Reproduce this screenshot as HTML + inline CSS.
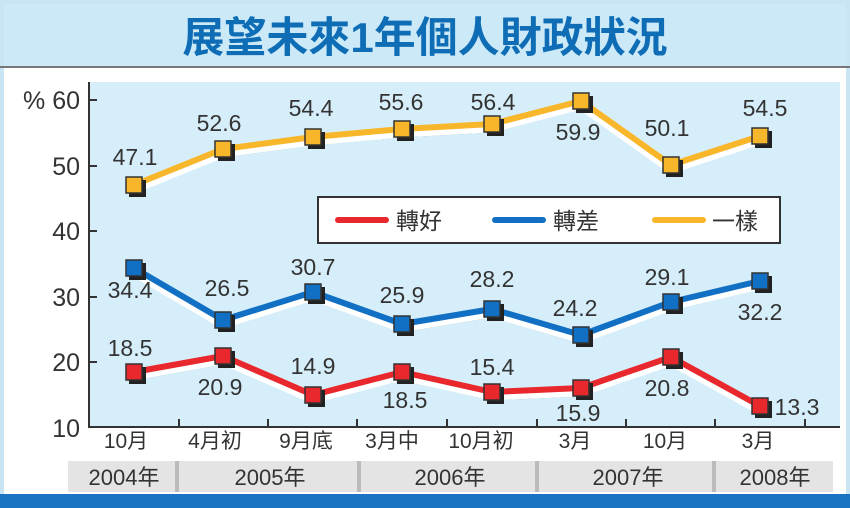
<!DOCTYPE html>
<html><head><meta charset="utf-8"><style>
html,body{margin:0;padding:0;background:#fff}
svg{display:block}
text{font-family:"Liberation Sans","Noto Sans CJK TC",sans-serif;fill:#333}
</style></head><body>
<svg width="850" height="508" viewBox="0 0 850 508" xmlns="http://www.w3.org/2000/svg">
<rect x="0" y="0" width="850" height="508" fill="#c9e4f2"/>
<rect x="4" y="4" width="842" height="64" fill="#cce9f8"/>
<rect x="4" y="68" width="842" height="426" fill="#fff"/>
<rect x="0" y="66" width="850" height="2" fill="#777"/>
<text x="425" y="52" text-anchor="middle" font-size="42" font-weight="bold" style="fill:#0e6db5">展望未來1年個人財政狀況</text>
<rect x="89" y="82" width="751" height="345" fill="#d6eefa"/>
<line x1="89" y1="82" x2="89" y2="428" stroke="#333" stroke-width="2"/>
<line x1="88" y1="427" x2="840" y2="427" stroke="#333" stroke-width="2"/>
<g stroke="#333" stroke-width="2">
<line x1="89" y1="100" x2="97" y2="100"/><line x1="89" y1="166" x2="97" y2="166"/>
<line x1="89" y1="231" x2="97" y2="231"/><line x1="89" y1="297" x2="97" y2="297"/>
<line x1="89" y1="362" x2="97" y2="362"/>
<line x1="179" y1="419" x2="179" y2="427"/><line x1="268" y1="419" x2="268" y2="427"/>
<line x1="357" y1="419" x2="357" y2="427"/><line x1="447" y1="419" x2="447" y2="427"/>
<line x1="537" y1="419" x2="537" y2="427"/><line x1="626" y1="419" x2="626" y2="427"/>
<line x1="715" y1="419" x2="715" y2="427"/><line x1="805" y1="419" x2="805" y2="427"/>
</g>
<g font-size="25" text-anchor="end">
<text x="80" y="109">% 60</text><text x="80" y="175">50</text><text x="80" y="240">40</text>
<text x="80" y="306">30</text><text x="80" y="371">20</text><text x="80" y="437">10</text>
</g>
<g font-size="21" text-anchor="middle">
<text x="126" y="448">10月</text><text x="215" y="448">4月初</text><text x="306" y="448">9月底</text>
<text x="392" y="448">3月中</text><text x="481" y="448">10月初</text><text x="575" y="448">3月</text>
<text x="665" y="448">10月</text><text x="758" y="448">3月</text>
</g>
<rect x="68" y="461" width="765" height="31" fill="#e4e4e4"/>
<g fill="#bbb"><rect x="175" y="461" width="4" height="31"/><rect x="357" y="461" width="4" height="31"/><rect x="535" y="461" width="4" height="31"/><rect x="712" y="461" width="4" height="31"/></g>
<g font-size="22" text-anchor="middle">
<text x="124" y="485">2004年</text><text x="270" y="485">2005年</text><text x="450" y="485">2006年</text>
<text x="628" y="485">2007年</text><text x="775" y="485">2008年</text>
</g>
<rect x="0" y="494" width="850" height="14" fill="#1a74c2"/>
<rect x="318" y="197" width="462" height="46" fill="#fff" stroke="#333" stroke-width="2"/>
<g stroke-width="6" stroke-linecap="round">
<line x1="338" y1="220" x2="386" y2="220" stroke="#e8282c"/>
<line x1="495" y1="220" x2="543" y2="220" stroke="#1270c4"/>
<line x1="655" y1="220" x2="703" y2="220" stroke="#f8b62a"/>
</g>
<g font-size="23"><text x="396" y="229">轉好</text><text x="553" y="229">轉差</text><text x="712" y="229">一樣</text></g>
<g fill="none" stroke-linejoin="round">
<polyline stroke="#3a8a96" stroke-width="3" points="134,192 223,156 313,144 402,136 492,131 581,108 671,172 760,143"/>
<polyline stroke="#fff" stroke-width="11" points="134,188 223,152 313,140 402,132 492,127 581,104 671,168 760,139"/>
<polyline stroke="#f8b62a" stroke-width="6" points="134,185 223,149 313,137 402,129 492,124 581,101 671,165 760,136"/>
<polyline stroke="#3a8a96" stroke-width="3" points="134,275 223,327 313,299 402,331 492,316 581,342 671,309 760,288"/>
<polyline stroke="#fff" stroke-width="11" points="134,271 223,323 313,295 402,327 492,312 581,338 671,305 760,284"/>
<polyline stroke="#1270c4" stroke-width="6" points="134,268 223,320 313,292 402,324 492,309 581,335 671,302 760,281"/>
<polyline stroke="#3a8a96" stroke-width="3" points="134,379 223,363 313,402 402,379 492,399 581,395 671,364 760,413"/>
<polyline stroke="#fff" stroke-width="11" points="134,375 223,359 313,398 402,375 492,395 581,391 671,360 760,409"/>
<polyline stroke="#e8282c" stroke-width="6" points="134,372 223,356 313,395 402,372 492,392 581,388 671,357 760,406"/>
</g>
<g fill="#222">
<rect x="129" y="180" width="17" height="17"/><rect x="218" y="144" width="17" height="17"/><rect x="308" y="132" width="17" height="17"/><rect x="397" y="124" width="17" height="17"/><rect x="487" y="119" width="17" height="17"/><rect x="576" y="96" width="17" height="17"/><rect x="666" y="160" width="17" height="17"/><rect x="755" y="131" width="17" height="17"/>
<rect x="129" y="263" width="17" height="17"/><rect x="218" y="315" width="17" height="17"/><rect x="308" y="287" width="17" height="17"/><rect x="397" y="319" width="17" height="17"/><rect x="487" y="304" width="17" height="17"/><rect x="576" y="330" width="17" height="17"/><rect x="666" y="297" width="17" height="17"/><rect x="755" y="276" width="17" height="17"/>
<rect x="129" y="367" width="17" height="17"/><rect x="218" y="351" width="17" height="17"/><rect x="308" y="390" width="17" height="17"/><rect x="397" y="367" width="17" height="17"/><rect x="487" y="387" width="17" height="17"/><rect x="576" y="383" width="17" height="17"/><rect x="666" y="352" width="17" height="17"/><rect x="755" y="401" width="17" height="17"/>
</g>
<g stroke="#333" stroke-width="1.5">
<g fill="#f8b62a"><rect x="126" y="177" width="16" height="16"/><rect x="215" y="141" width="16" height="16"/><rect x="305" y="129" width="16" height="16"/><rect x="394" y="121" width="16" height="16"/><rect x="484" y="116" width="16" height="16"/><rect x="573" y="93" width="16" height="16"/><rect x="663" y="157" width="16" height="16"/><rect x="752" y="128" width="16" height="16"/></g>
<g fill="#1270c4"><rect x="126" y="260" width="16" height="16"/><rect x="215" y="312" width="16" height="16"/><rect x="305" y="284" width="16" height="16"/><rect x="394" y="316" width="16" height="16"/><rect x="484" y="301" width="16" height="16"/><rect x="573" y="327" width="16" height="16"/><rect x="663" y="294" width="16" height="16"/><rect x="752" y="273" width="16" height="16"/></g>
<g fill="#e8282c"><rect x="126" y="364" width="16" height="16"/><rect x="215" y="348" width="16" height="16"/><rect x="305" y="387" width="16" height="16"/><rect x="394" y="364" width="16" height="16"/><rect x="484" y="384" width="16" height="16"/><rect x="573" y="380" width="16" height="16"/><rect x="663" y="349" width="16" height="16"/><rect x="752" y="398" width="16" height="16"/></g>
</g>
<g font-size="23" text-anchor="middle">
<text x="135" y="165">47.1</text><text x="219" y="131">52.6</text><text x="311" y="116">54.4</text><text x="401" y="110">55.6</text><text x="493" y="110">56.4</text><text x="578" y="140">59.9</text><text x="667" y="136">50.1</text><text x="765" y="116">54.5</text>
<text x="130" y="298">34.4</text><text x="227" y="296">26.5</text><text x="313" y="275">30.7</text><text x="402" y="303">25.9</text><text x="492" y="287">28.2</text><text x="575" y="316">24.2</text><text x="667" y="285">29.1</text><text x="760" y="320">32.2</text>
<text x="130" y="356">18.5</text><text x="220" y="395">20.9</text><text x="313" y="374">14.9</text><text x="405" y="408">18.5</text><text x="492" y="375">15.4</text><text x="578" y="421">15.9</text><text x="667" y="396">20.8</text><text x="797" y="415">13.3</text>
</g>
</svg>
</body></html>
